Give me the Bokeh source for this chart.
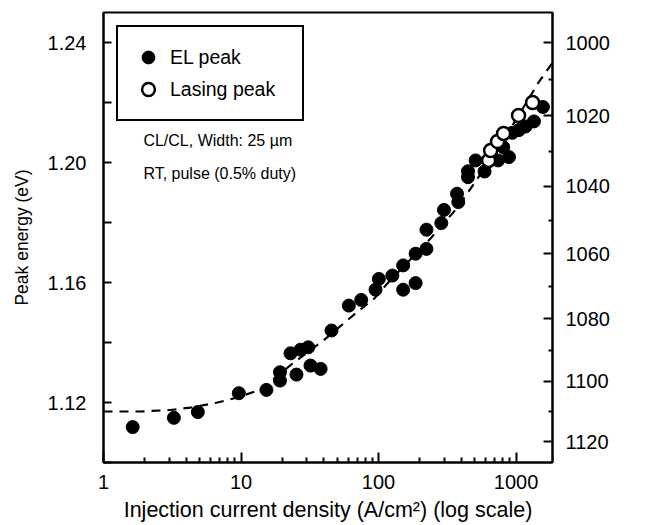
from bokeh.plotting import figure
from bokeh.models import (LinearAxis, FixedTicker, CustomJSTickFormatter, Legend,
                          LegendItem, Label, PrintfTickFormatter)
from bokeh.embed import file_html
from bokeh.resources import INLINE

HC = 1239.84  # eV*nm

# EL peak (filled circles): current density (A/cm2), peak energy (eV)
el_j = [1.63, 3.25, 4.85, 9.64, 15.3, 19.2, 19.2, 25.3, 22.9, 27.1, 30.8, 32.0, 37.9,
        45.5, 60.8, 74.8, 95.1, 100.5, 126, 151, 151, 186, 186, 223, 223, 286, 299,
        372, 380, 447, 447, 508, 590, 740, 807, 888, 938, 1048, 1173, 1349, 1567]
el_e = [1.1118, 1.1149, 1.1168, 1.1231, 1.1242, 1.1273, 1.1301, 1.1293, 1.1364, 1.1376,
        1.1384, 1.1323, 1.1312, 1.1440, 1.1523, 1.1542, 1.1576, 1.1612, 1.1623, 1.1576,
        1.1657, 1.1598, 1.1696, 1.1712, 1.1776, 1.1798, 1.1842, 1.1896, 1.1868, 1.1951,
        1.1971, 1.2007, 1.1970, 1.2007, 1.2051, 1.2018, 1.2099, 1.2108, 1.2120, 1.2137,
        1.2185]

# Lasing peak (open circles)
las_j = [631, 653, 733, 811, 1042, 1318]
las_e = [1.2007, 1.2040, 1.2070, 1.2097, 1.2157, 1.2200]

# dashed guide curve
fit_j = [1.0, 1.86, 3.07, 4.29, 6.75, 9.43, 13.9, 23.7, 40.5, 69.2, 93.5, 116, 239,
         375, 467, 800, 1458, 1841]
fit_e = [1.1170, 1.1170, 1.1175, 1.1183, 1.1200, 1.1217, 1.1243, 1.1330, 1.1410,
         1.1500, 1.1547, 1.1597, 1.1747, 1.1850, 1.1913, 1.2070, 1.2267, 1.2333]

# axis ticks
x_major = [1, 10, 100, 1000]
x_minor = [2, 3, 4, 5, 6, 7, 8, 9, 20, 30, 40, 50, 60, 70, 80, 90,
           200, 300, 400, 500, 600, 700, 800, 900]
e_major = [1.12, 1.16, 1.20, 1.24]
e_minor = [1.10, 1.14, 1.18, 1.22]
wl_major = [1000, 1020, 1040, 1060, 1080, 1100, 1120]
wl_minor = [1010, 1030, 1050, 1070, 1090, 1110]

FONT = "Liberation Sans"

p = figure(width=648, height=522, x_axis_type="log", x_range=(1, 1840), y_range=(1.10, 1.25),
           output_backend="svg", toolbar_location=None,
           min_border_left=103, min_border_right=96, min_border_top=12, min_border_bottom=60)
p.frame_width = 449
p.frame_height = 450
p.xgrid.grid_line_color = None
p.ygrid.grid_line_color = None
p.outline_line_color = "black"
p.outline_line_width = 2
p.outline_line_alpha = 1.0
p.background_fill_color = None
p.border_fill_color = "white"

fit_r = p.line(fit_j, fit_e, line_color="black", line_width=2.2, line_dash="9 7")
el_r = p.scatter(el_j, el_e, size=13, fill_color="black", line_color="black")
las_r = p.scatter(las_j, las_e, size=13, fill_color="white", line_color="black", line_width=2.5)

# bottom axis
xa = p.xaxis[0]
xa.ticker = FixedTicker(ticks=x_major, minor_ticks=x_minor)
xa.formatter = PrintfTickFormatter(format="%d")
xa.axis_label = "Injection current density (A/cm\u00b2) (log scale)"

# left axis
ya = p.yaxis[0]
ya.ticker = FixedTicker(ticks=e_major, minor_ticks=e_minor)
ya.formatter = PrintfTickFormatter(format="%.2f")
ya.axis_label = "Peak energy (eV)"

# right axis (wavelength)
ra = LinearAxis(ticker=FixedTicker(ticks=[HC / w for w in wl_major],
                                   minor_ticks=[HC / w for w in wl_minor]),
                formatter=CustomJSTickFormatter(code="return (1239.84/tick).toFixed(0);"))
p.add_layout(ra, "right")

for ax in (xa, ya, ra):
    ax.axis_line_width = 2
    ax.axis_line_color = "black"
    ax.major_tick_line_width = 2
    ax.minor_tick_line_width = 2
    ax.major_tick_line_color = "black"
    ax.minor_tick_line_color = "black"
    ax.major_tick_out = 0
    ax.minor_tick_out = 0
    ax.major_label_text_font = FONT
    ax.major_label_text_font_size = "20px"
    ax.major_label_text_color = "black"
    ax.axis_label_text_font = FONT
    ax.axis_label_text_font_style = "normal"
    ax.axis_label_text_color = "black"

xa.axis_label_text_font_size = "21.5px"
ya.axis_label_text_font_size = "17.5px"
xa.major_tick_in = 10
xa.minor_tick_in = 5
xa.major_label_standoff = 12
xa.axis_label_standoff = 6
ya.major_tick_in = 8
ya.minor_tick_in = 8
ya.major_label_standoff = 17
ya.axis_label_standoff = 13
ra.major_tick_in = 9
ra.minor_tick_in = 4
ra.major_label_standoff = 13

# right axis title reads upward like the reference
p.add_layout(Label(x=7650, y=1.178, text="Peak wavelength (nm)", angle=1.5708,
                   text_align="center", text_baseline="middle",
                   text_font=FONT, text_font_size="21px", text_color="black"))

p.add_layout(Label(x=1.95, y=1.2073, text="CL/CL, Width: 25 \u00b5m",
                   text_baseline="middle", text_font=FONT, text_font_size="16px",
                   text_color="black"))
p.add_layout(Label(x=1.95, y=1.1963, text="RT, pulse (0.5% duty)",
                   text_baseline="middle", text_font=FONT, text_font_size="16px",
                   text_color="black"))

legend = Legend(items=[LegendItem(label="EL peak", renderers=[el_r]),
                       LegendItem(label="Lasing peak", renderers=[las_r])],
                location=(13, 341), border_line_color="black", border_line_width=2,
                border_line_alpha=1.0,
                background_fill_color="white", background_fill_alpha=1,
                glyph_width=32, glyph_height=32, label_height=32, spacing=0,
                padding=14, label_standoff=6, label_width=118, margin=0,
                label_text_font=FONT, label_text_font_size="19.5px",
                label_text_color="black")
p.add_layout(legend)

open("out.html", "w").write(file_html(p, INLINE))
